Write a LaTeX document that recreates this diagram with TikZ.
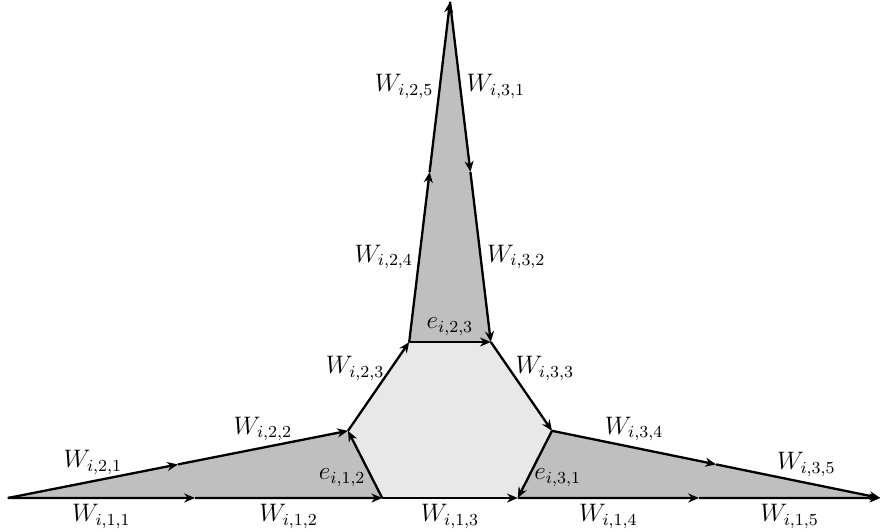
\documentclass[tikz,border=0pt]{standalone}
\usepackage{amsmath}
\usetikzlibrary{arrows.meta,calc}
\definecolor{spikegray}{HTML}{BFBFBF}
\definecolor{hexgray}{HTML}{E8E8E8}

\begin{document}
\begin{tikzpicture}[font=\fontsize{11.5}{14}\selectfont,
  every node/.style={inner sep=2.5pt},
  edge/.style={line width=1.1pt,-{Stealth[length=1.8mm,width=1.5mm]}},
  spike/.style={fill=spikegray},
  core/.style={fill=hexgray}]
  \useasboundingbox (0,0) rectangle (14.75,8.85);
  \coordinate (tipL) at (0.13,0.55);
  \coordinate (tipR) at (14.67,0.55);
  \coordinate (tipT) at (7.5,8.82);
  \coordinate (hA) at (6.37,0.55);
  \coordinate (hB) at (8.63,0.55);
  \coordinate (hC) at (9.2,1.67);
  \coordinate (hD) at (8.18,3.15);
  \coordinate (hE) at (6.82,3.15);
  \coordinate (hF) at (5.8,1.67);
  \coordinate (m11) at ($(tipL)!0.5!(hA)$);
  \coordinate (m15) at ($(hB)!0.5!(tipR)$);
  \coordinate (m21) at ($(tipL)!0.5!(hF)$);
  \coordinate (m24) at ($(hE)!0.5!(tipT)$);
  \coordinate (m32) at ($(tipT)!0.5!(hD)$);
  \coordinate (m34) at ($(hC)!0.5!(tipR)$);
  \fill[spike] (tipL) -- (hA) -- (hF) -- cycle;
  \fill[spike] (hE) -- (tipT) -- (hD) -- cycle;
  \fill[spike] (hC) -- (tipR) -- (hB) -- cycle;
  \fill[core] (hA) -- (hB) -- (hC) -- (hD) -- (hE) -- (hF) -- cycle;
  \draw[edge] (tipL) -- node[below] {$W_{i,1,1}$} (m11);
  \draw[edge] (m11) -- node[below] {$W_{i,1,2}$} (hA);
  \draw[edge] (hA) -- node[below] {$W_{i,1,3}$} (hB);
  \draw[edge] (hB) -- node[below] {$W_{i,1,4}$} (m15);
  \draw[edge] (m15) -- node[below] {$W_{i,1,5}$} (tipR);
  \draw[edge] (tipL) -- node[above] {$W_{i,2,1}$} (m21);
  \draw[edge] (m21) -- node[above] {$W_{i,2,2}$} (hF);
  \draw[edge] (hA) -- node[left,pos=0.3] {$e_{i,1,2}$} (hF);
  \draw[edge] (hF) -- node[left,pos=0.7] {$W_{i,2,3}$} (hE);
  \draw[edge] (hE) -- node[above] {$e_{i,2,3}$} (hD);
  \draw[edge] (hE) -- node[left] {$W_{i,2,4}$} (m24);
  \draw[edge] (m24) -- node[left] {$W_{i,2,5}$} (tipT);
  \draw[edge] (tipT) -- node[right] {$W_{i,3,1}$} (m32);
  \draw[edge] (m32) -- node[right] {$W_{i,3,2}$} (hD);
  \draw[edge] (hD) -- node[right,pos=0.3] {$W_{i,3,3}$} (hC);
  \draw[edge] (hC) -- node[right,pos=0.7] {$e_{i,3,1}$} (hB);
  \draw[edge] (hC) -- node[above] {$W_{i,3,4}$} (m34);
  \draw[edge] (m34) -- node[above,pos=0.55] {$W_{i,3,5}$} (tipR);
\end{tikzpicture}
\end{document}
